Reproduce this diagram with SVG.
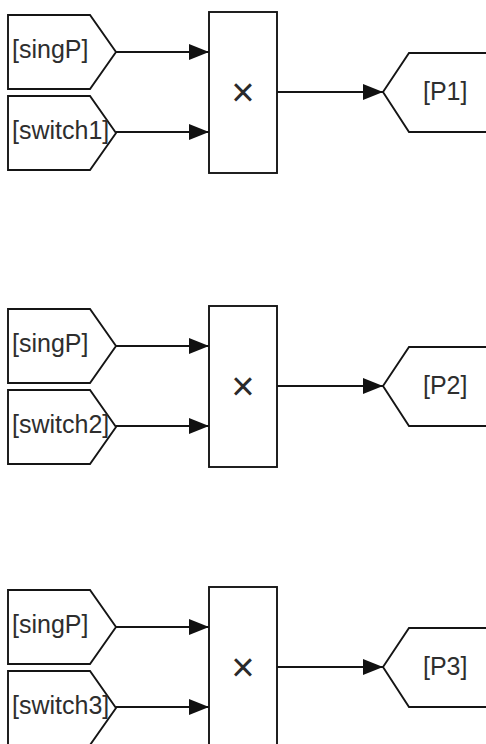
<svg xmlns="http://www.w3.org/2000/svg" width="486" height="744" viewBox="0 0 486 744">
  <style>
    .blk { fill: #ffffff; stroke: #151515; stroke-width: 1.9; stroke-linejoin: miter; }
    .lbl { font-family: "Liberation Sans", Arial, Helvetica, sans-serif; font-size: 25px; fill: #2e2e2e; }
    .op { font-family: "Liberation Sans", Arial, sans-serif; font-size: 40px; fill: #2a2a2a; text-anchor: middle; }
    .wire { fill: none; stroke: #151515; stroke-width: 1.9; marker-end: url(#arrow); }
  </style>
  <defs>
    <marker id="arrow" markerUnits="userSpaceOnUse" markerWidth="22" markerHeight="18" refX="21" refY="8" orient="auto">
      <path d="M1,0 L21,8 L1,16 Z" fill="#111111"/>
    </marker>
  </defs>
  <rect width="486" height="744" fill="#ffffff"/>

  <!-- connectors -->
  <g id="connectors">
    <g transform="translate(0,0)">
      <path class="wire" d="M116,52 H209"/>
      <path class="wire" d="M116,132 H209"/>
      <path class="wire" d="M277,92 H383"/>
    </g>
    <g transform="translate(0,294)">
      <path class="wire" d="M116,52 H209"/>
      <path class="wire" d="M116,132 H209"/>
      <path class="wire" d="M277,92 H383"/>
    </g>
    <g transform="translate(0,575)">
      <path class="wire" d="M116,52 H209"/>
      <path class="wire" d="M116,132 H209"/>
      <path class="wire" d="M277,92 H383"/>
    </g>
  </g>

  <!-- row 1 -->
  <g id="from-singP-1">
    <path class="blk" d="M8,15 H90 L116,52 L90,89 H8 Z"/>
    <text class="lbl" x="12" y="58">[singP]</text>
  </g>
  <g id="from-switch1">
    <path class="blk" d="M8,96 H90 L116,133 L90,170 H8 Z"/>
    <text class="lbl" x="12" y="139">[switch1]</text>
  </g>
  <g id="product-1">
    <rect class="blk" x="209" y="12" width="68" height="161"/>
    <text class="op" x="243" y="106">×</text>
  </g>
  <g id="goto-P1">
    <path class="blk" d="M383,92 L409,53 H495 V132 H409 Z"/>
    <text class="lbl" x="423" y="100">[P1]</text>
  </g>

  <!-- row 2 -->
  <g id="from-singP-2" transform="translate(0,294)">
    <path class="blk" d="M8,15 H90 L116,52 L90,89 H8 Z"/>
    <text class="lbl" x="12" y="58">[singP]</text>
  </g>
  <g id="from-switch2" transform="translate(0,294)">
    <path class="blk" d="M8,96 H90 L116,133 L90,170 H8 Z"/>
    <text class="lbl" x="12" y="139">[switch2]</text>
  </g>
  <g id="product-2" transform="translate(0,294)">
    <rect class="blk" x="209" y="12" width="68" height="161"/>
    <text class="op" x="243" y="106">×</text>
  </g>
  <g id="goto-P2" transform="translate(0,294)">
    <path class="blk" d="M383,92 L409,53 H495 V132 H409 Z"/>
    <text class="lbl" x="423" y="100">[P2]</text>
  </g>

  <!-- row 3 -->
  <g id="from-singP-3" transform="translate(0,575)">
    <path class="blk" d="M8,15 H90 L116,52 L90,89 H8 Z"/>
    <text class="lbl" x="12" y="58">[singP]</text>
  </g>
  <g id="from-switch3" transform="translate(0,575)">
    <path class="blk" d="M8,96 H90 L116,133 L90,170 H8 Z"/>
    <text class="lbl" x="12" y="139">[switch3]</text>
  </g>
  <g id="product-3" transform="translate(0,575)">
    <rect class="blk" x="209" y="12" width="68" height="161"/>
    <text class="op" x="243" y="106">×</text>
  </g>
  <g id="goto-P3" transform="translate(0,575)">
    <path class="blk" d="M383,92 L409,53 H495 V132 H409 Z"/>
    <text class="lbl" x="423" y="100">[P3]</text>
  </g>
</svg>
